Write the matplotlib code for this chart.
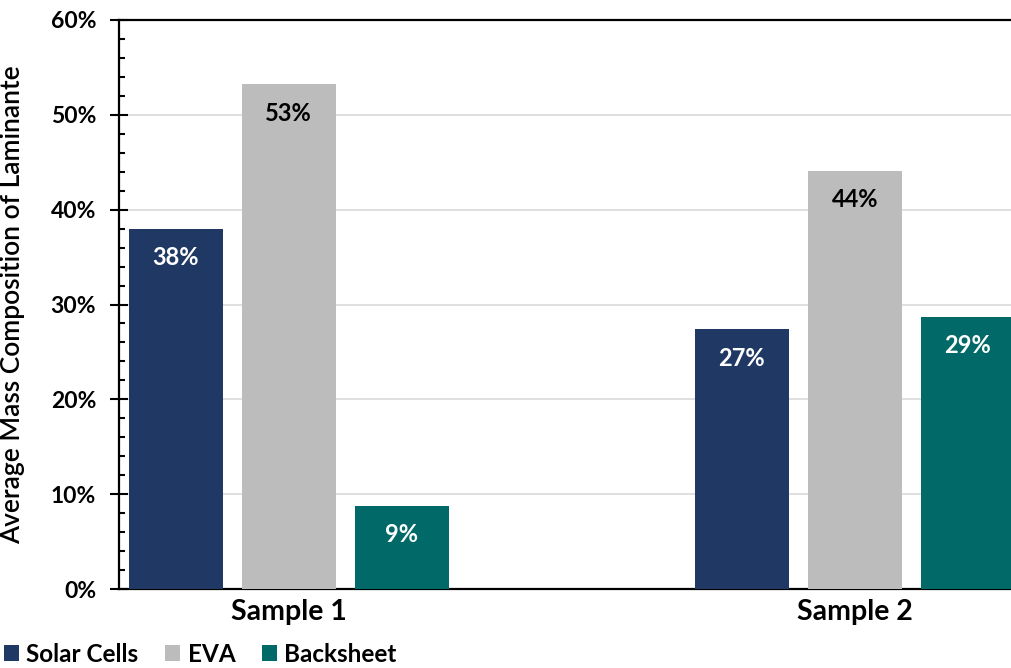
import matplotlib
matplotlib.use("Agg")
import matplotlib.pyplot as plt
import numpy as np
from matplotlib.ticker import MultipleLocator, FuncFormatter
from matplotlib.patches import Patch

plt.rcParams['font.family'] = ['Lato', 'DejaVu Sans']

# Data
samples = ["Sample 1", "Sample 2"]
series = ["Solar Cells", "EVA", "Backsheet"]
solar_cells = [38.0, 27.4]
eva = [53.2, 44.1]
backsheet = [8.8, 28.7]
values = [solar_cells, eva, backsheet]

colors = ["#203864", "#BCBCBC", "#016A68"]
label_colors = ["white", "black", "white"]

fig = plt.figure(figsize=(10.12, 6.68), dpi=100)
ax = fig.add_axes([119 / 1012, 79 / 668, 893 / 1012, 569 / 668])

x = np.arange(len(samples))
step = 0.2
width = 0.166

for i, (name, vals) in enumerate(zip(series, values)):
    pos = x + (i - 1) * step
    bars = ax.bar(pos, vals, width, color=colors[i], label=name, zorder=3)
    for b, v in zip(bars, vals):
        ax.annotate(f"{v:.0f}%", (b.get_x() + b.get_width() / 2, v),
                    xytext=(0, -21), textcoords="offset points",
                    ha="center", va="center", fontsize=17, fontweight="bold",
                    color=label_colors[i], zorder=4)

ax.set_xlim(-0.3, -0.3 + 893 / 566)
ax.set_ylim(0, 60)

ax.yaxis.set_major_locator(MultipleLocator(10))
ax.yaxis.set_minor_locator(MultipleLocator(2))
ax.yaxis.set_major_formatter(FuncFormatter(lambda v, p: f"{v:.0f}%"))
ax.tick_params(axis="y", which="major", direction="inout", length=13, width=1.5,
               labelsize=16.5, pad=10, color="black")
ax.tick_params(axis="y", which="minor", direction="in", length=4.5, width=1.5)
for lab in ax.get_yticklabels():
    lab.set_fontweight("bold")

ax.set_xticks(x)
ax.set_xticklabels(samples, fontsize=20.5, fontweight="bold")
ax.tick_params(axis="x", length=0, pad=7)

ax.grid(axis="y", which="major", color="#D9D9D9", linewidth=1.2, zorder=0)
ax.set_axisbelow(True)

for side in ["left", "top", "bottom"]:
    ax.spines[side].set_linewidth(1.6)
    ax.spines[side].set_color("black")
ax.spines["right"].set_visible(False)

ax.set_ylabel("Average Mass Composition of Laminante", fontsize=19,
              fontweight="semibold")
ax.yaxis.set_label_coords(-94 / 893, 0.5)

handles = [Patch(facecolor=c, label=s) for c, s in zip(colors, series)]
fig.legend(handles=handles, loc="center left", bbox_to_anchor=(0.004, 14 / 668),
           ncol=3, frameon=False, prop={"weight": "bold", "size": 17.5},
           handlelength=0.62, handleheight=0.62, handletextpad=0.3,
           columnspacing=1.1, borderpad=0, borderaxespad=0)

fig.savefig("out.png", dpi=100)
